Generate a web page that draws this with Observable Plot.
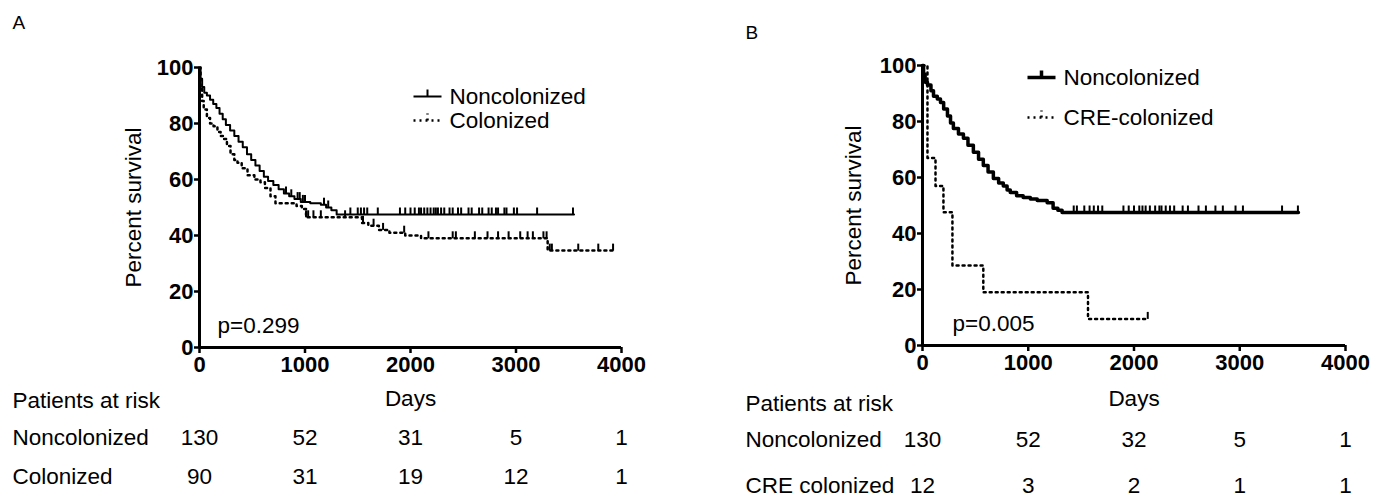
<!DOCTYPE html>
<html><head><meta charset="utf-8">
<script src="https://cdn.jsdelivr.net/npm/d3@7"></script>
<script src="https://cdn.jsdelivr.net/npm/@observablehq/plot@0.6"></script>
<style>
body{margin:0;background:#fff}
#fig{position:relative;width:1383px;height:497px;overflow:hidden}
#a{position:absolute;left:0;top:0}
#b{position:absolute;left:700px;top:0}
</style>
</head><body><div id="fig"><div id="a"></div><div id="b"></div></div>
<script>
// ---- data ----
const dayTicks = [0, 1000, 2000, 3000, 4000];
const pctTicks = [0, 20, 40, 60, 80, 100];

// Panel A: Noncolonized
const aNonDays = [0,10,25,45,70,100,130,160,190,220,250,290,330,370,410,450,490,530,570,610,650,700,750,800,850,900,960,1050,1150,1200,1250,1300,3550];
const aNonPct  = [100,96,93,91,90,88.5,87,85.5,83.5,81.5,79.5,77.5,75.5,73.5,71.5,69,67,65,63,61,59.5,58,56.5,55,54,53,52,51.5,51,50,49,47.5,47.5];
const aNonCens = [820,870,930,950,980,1000,1180,1220,1430,1500,1530,1560,1590,1690,1900,1950,2000,2040,2080,2100,2130,2160,2190,2220,2240,2260,2290,2320,2370,2400,2450,2480,2550,2580,2650,2680,2740,2770,2810,2830,2890,2910,2980,3010,3200,3540];
// Panel A: Colonized
const aColDays = [0,10,25,40,70,100,133,170,200,228,260,294,330,360,400,455,520,578,620,673,720,920,970,1010,1540,1600,1700,1800,1950,2100,3300,3925];
const aColPct  = [100,93,88,85,82,80,79,77,75.5,74.5,72,69,67,66,64,61.5,60,59,57,54,51.5,50.5,49.5,46.5,44.5,43.5,42,41,40,39,34.6,34.6];
const aColCens = [1010,1030,1080,1150,1380,1550,1650,1740,1940,2170,2400,2430,2610,2730,2830,2930,3040,3110,3160,3260,3290,3320,3340,3590,3780,3920];

// Panel B: Noncolonized
const bNonDays = [0,10,25,47,80,104,140,170,200,236,265,292,340,387,430,481,530,575,620,670,720,764,800,830,890,952,1020,1085,1179,1235,1280,1320,3555];
const bNonPct  = [100,97,94,93,91,89,88,86.8,84.5,82,79.5,77.5,75.5,74,71.5,69,66.5,64.3,62,59.6,58,57,55.5,54.6,53.5,52.9,52.3,51.8,51,49,48.3,47.5,47.5];
const bNonCens = [1430,1460,1530,1580,1620,1660,1700,1900,1950,2000,2050,2080,2110,2150,2200,2240,2260,2300,2340,2380,2460,2510,2610,2680,2770,2840,2960,3030,3400,3550];
// Panel B: CRE-colonized
const bCreDays = [0,47,123,198,283,575,1565,2130];
const bCrePct  = [100,67,57,47.6,28.6,19,9.5,9.5];
const bCreCens = [2130];

// Patients at risk
const aRiskNon = [130, 52, 31, 5, 1];
const aRiskCol = [90, 31, 19, 12, 1];
const bRiskNon = [130, 52, 32, 5, 1];
const bRiskCre = [12, 3, 2, 1, 1];

// ---- helpers ----
const rows = (days, pct) => days.map((d, i) => ({d, p: pct[i]}));
const survAt = (days, pct, t) => { let v = pct[0]; for (let i = 0; i < days.length; i++) if (days[i] <= t) v = pct[i]; return v; };
const cens = (days, pct, c) => c.map(t => ({d: t, p: survAt(days, pct, t)}));
const tickSym = {draw(ctx) { ctx.moveTo(0, 0); ctx.lineTo(0, -7); }};
const legSym = {draw(ctx) { ctx.moveTo(-14, 0); ctx.lineTo(14, 0); ctx.moveTo(0, 0); ctx.lineTo(0, -7); }};
const FONT = "'Liberation Sans', Arial, Helvetica, sans-serif";
const DOT = "2,4";
const FS = 22.5;

function panel(o) {
  const risk1 = dayTicks.map((t, i) => ({t, n: o.risk1[i]}));
  const risk2 = dayTicks.map((t, i) => ({t, n: o.risk2[i]}));
  const T = (txt, opts) => Plot.text([txt], {fontSize: FS, lineAnchor: "middle", ...opts});
  return Plot.plot({
    width: o.width, height: 497,
    marginLeft: o.ml, marginRight: o.mr, marginTop: o.mt, marginBottom: 497 - o.bottom,
    x: {domain: [0, 4000], axis: null},
    y: {domain: [0, 100], axis: null},
    style: {fontFamily: FONT, fontSize: "22px", color: "#000", background: "#fff", overflow: "visible"},
    marks: [
      Plot.axisX({ticks: dayTicks, tickFormat: "d", tickSize: 6, tickPadding: 3, strokeWidth: 2.5, fontWeight: "bold", fontSize: 22, label: null}),
      Plot.axisY({ticks: pctTicks, tickFormat: "d", tickSize: 5, tickPadding: 1, strokeWidth: 2.5, fontWeight: "bold", fontSize: 22, label: null}),
      Plot.ruleX([0], {strokeWidth: 3}),
      Plot.ruleY([0], {strokeWidth: 3}),
      Plot.line(rows(o.s1d, o.s1p), {x: "d", y: "p", curve: "step-after", stroke: "#000", strokeWidth: o.w1}),
      Plot.line(rows(o.s2d, o.s2p), {x: "d", y: "p", curve: "step-after", stroke: "#000", strokeWidth: 2.5, strokeDasharray: DOT}),
      Plot.dot(cens(o.s1d, o.s1p, o.c1), {x: "d", y: "p", symbol: tickSym, stroke: "#000", fill: "none", strokeWidth: 2}),
      Plot.dot(cens(o.s2d, o.s2p, o.c2), {x: "d", y: "p", symbol: tickSym, stroke: "#000", fill: "none", strokeWidth: 2}),
      // legend
      Plot.dot([0], {frameAnchor: "top-left", dx: o.legX, dy: o.leg1, symbol: legSym, stroke: "#000", fill: "none", strokeWidth: o.w1}),
      Plot.dot([0], {frameAnchor: "top-left", dx: o.legX, dy: o.leg2, symbol: legSym, stroke: "#000", fill: "none", strokeWidth: 2.5, strokeDasharray: DOT}),
      T(o.name1, {frameAnchor: "top-left", dx: o.legX + 22, dy: o.leg1, textAnchor: "start"}),
      T(o.name2, {frameAnchor: "top-left", dx: o.legX + 22, dy: o.leg2, textAnchor: "start"}),
      // labels
      T(o.letter, {frameAnchor: "top-left", dx: o.letX, dy: o.letY, textAnchor: "start", fontSize: 19}),
      T("Percent survival", {frameAnchor: "left", dx: o.ylabX, rotate: -90, textAnchor: "middle"}),
      T("Days", {frameAnchor: "bottom", dy: o.daysY, textAnchor: "middle"}),
      T(o.pval, {frameAnchor: "bottom-left", dx: o.pX, dy: -22, textAnchor: "start"}),
      // risk table
      T("Patients at risk", {frameAnchor: "bottom-left", dx: o.tabX, dy: o.tab0, textAnchor: "start"}),
      T(o.row1, {frameAnchor: "bottom-left", dx: o.tabX, dy: o.tab1, textAnchor: "start"}),
      T(o.row2, {frameAnchor: "bottom-left", dx: o.tabX, dy: o.tab2, textAnchor: "start"}),
      Plot.text(risk1, {x: "t", text: "n", frameAnchor: "bottom", dy: o.tab1, fontSize: FS, lineAnchor: "middle"}),
      Plot.text(risk2, {x: "t", text: "n", frameAnchor: "bottom", dy: o.tab2, fontSize: FS, lineAnchor: "middle"})
    ]
  });
}

document.getElementById("a").append(panel({
  width: 700, ml: 199, mr: 79, mt: 67, bottom: 347,
  s1d: aNonDays, s1p: aNonPct, c1: aNonCens, w1: 2,
  s2d: aColDays, s2p: aColPct, c2: aColCens,
  name1: "Noncolonized", name2: "Colonized", legX: 228, leg1: 29, leg2: 53,
  letter: "A", letX: -187, letY: -45, ylabX: -66, daysY: 51, pval: "p=0.299", pX: 18,
  tabX: -187, tab0: 53, tab1: 90, tab2: 129, row1: "Noncolonized", row2: "Colonized",
  risk1: aRiskNon, risk2: aRiskCol
}));

document.getElementById("b").append(panel({
  width: 683, ml: 222, mr: 38, mt: 65, bottom: 345,
  s1d: bNonDays, s1p: bNonPct, c1: bNonCens, w1: 3.5,
  s2d: bCreDays, s2p: bCrePct, c2: bCreCens,
  name1: "Noncolonized", name2: "CRE-colonized", legX: 119, leg1: 12, leg2: 52,
  letter: "B", letX: -177, letY: -33, ylabX: -69, daysY: 53, pval: "p=0.005", pX: 30,
  tabX: -177, tab0: 58, tab1: 94, tab2: 140, row1: "Noncolonized", row2: "CRE colonized",
  risk1: bRiskNon, risk2: bRiskCre
}));
</script></body></html>
